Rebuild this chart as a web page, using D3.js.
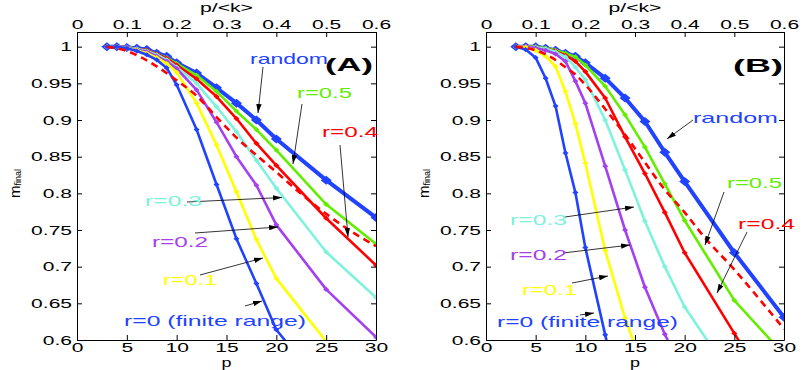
<!DOCTYPE html>
<html lang="en">
<head>
<meta charset="UTF-8">
<title>m_final vs p</title>
<style>
  body { margin: 0; background: #fff; }
  svg { display: block; font-family: "Liberation Sans", Arial, sans-serif; }
</style>
</head>
<body>
<div id="chart"></div>
<script src="https://cdn.jsdelivr.net/npm/d3@7"></script>
<script>
// p values of the simulation runs (same for every marked curve)
const pVals = [3, 4, 5, 6, 7, 8, 9, 10, 12, 14, 16, 18, 20, 25, 30];
// p values of the dashed reference curve
const theoryP = [3, 5, 6.5, 8, 9, 10, 12, 14, 16, 18, 20, 22, 25, 28, 30];

// panel (A)
const aRandom = [1, 1, 0.999, 0.998, 0.996, 0.991, 0.987, 0.978, 0.964, 0.944, 0.923, 0.9, 0.874, 0.818, 0.767];
const aR05 = [1, 1, 0.999, 0.997, 0.995, 0.99, 0.985, 0.977, 0.961, 0.939, 0.912, 0.887, 0.859, 0.785, 0.731];
const aR04 = [1, 1, 0.999, 0.997, 0.995, 0.99, 0.984, 0.975, 0.956, 0.932, 0.902, 0.868, 0.838, 0.766, 0.702];
const aR03 = [1, 1, 0.999, 0.997, 0.994, 0.989, 0.982, 0.972, 0.95, 0.918, 0.884, 0.845, 0.807, 0.72, 0.658];
const aR02 = [1, 1, 0.999, 0.996, 0.993, 0.987, 0.98, 0.97, 0.941, 0.897, 0.85, 0.811, 0.757, 0.669, 0.604];
const aR01 = [1, 1, 0.998, 0.995, 0.991, 0.985, 0.977, 0.965, 0.923, 0.866, 0.802, 0.737, 0.684, 0.598, null];
const aR0 = [1, 1, 0.998, 0.994, 0.989, 0.982, 0.971, 0.948, 0.887, 0.812, 0.738, 0.677, 0.614, 0.53, null];
const aTheory = [1, 0.994, 0.985, 0.973, 0.964, 0.954, 0.933, 0.904, 0.876, 0.852, 0.829, 0.805, 0.772, 0.744, 0.728];

// panel (B)
const bRandom = [1, 1, 1, 0.998, 0.995, 0.991, 0.987, 0.978, 0.957, 0.93, 0.898, 0.856, 0.816, 0.719, 0.631];
const bR05 = [1, 1, 1, 0.998, 0.995, 0.991, 0.986, 0.975, 0.946, 0.907, 0.863, 0.813, 0.763, 0.654, 0.58];
const bR04 = [1, 1, 0.999, 0.997, 0.994, 0.988, 0.98, 0.966, 0.93, 0.877, 0.827, 0.774, 0.719, 0.609, 0.5];
const bR03 = [1, 1, 0.999, 0.997, 0.993, 0.986, 0.972, 0.955, 0.9, 0.832, 0.762, 0.7, 0.645, 0.545, null];
const bR02 = [1, 1, 0.998, 0.995, 0.99, 0.98, 0.953, 0.923, 0.837, 0.75, 0.672, 0.608, 0.55, null, null];
const bR01 = [1, 0.999, 0.995, 0.987, 0.973, 0.939, 0.895, 0.841, 0.722, 0.63, 0.555, null, null, null, null];
const bR0 = [1, 0.996, 0.985, 0.957, 0.919, 0.855, 0.801, 0.726, 0.607, 0.49, null, null, null, null, null];
const bTheory = [1, 0.995, 0.986, 0.972, 0.962, 0.948, 0.915, 0.88, 0.842, 0.805, 0.774, 0.74, 0.696, 0.648, 0.615];

// ticks
const xTicks = [0, 5, 10, 15, 20, 25, 30];
const xTickLabels = ["0", "5", "10", "15", "20", "25", "30"];
const topTicks = [0, 0.1, 0.2, 0.3, 0.4, 0.5, 0.6];
const topTickLabels = ["0", "0.1", "0.2", "0.3", "0.4", "0.5", "0.6"];
const yTicks = [0.6, 0.65, 0.7, 0.75, 0.8, 0.85, 0.9, 0.95, 1];
const yTickLabels = ["0.6", "0.65", "0.7", "0.75", "0.8", "0.85", "0.9", "0.95", "1"];

const seriesNames = ["random", "r=0.5", "r=0.4", "r=0.3", "r=0.2", "r=0.1", "r=0 (finite range)"];

// ---- drawing ----
const blue = "#2143ff", green = "#62ee00", red = "#ff0000", cyan = "#7ef2dd",
      purple = "#a440f0", yellow = "#ffff00";
const colors = [blue, green, red, cyan, purple, yellow, blue];

const svg = d3.select("#chart").append("svg").attr("width", 809).attr("height", 370);
const plotTop = 32, plotBottom = 340;

// arrow head for the annotation arrows
svg.append("defs").append("marker")
    .attr("id", "ah").attr("viewBox", "0 0 10 6").attr("refX", 10).attr("refY", 3)
    .attr("markerWidth", 9).attr("markerHeight", 5.4).attr("markerUnits", "userSpaceOnUse")
    .attr("orient", "auto")
  .append("path").attr("d", "M0,0L10,3L0,6z").attr("fill", "#000");

// the figure's text is drawn wide, so widen glyphs after measuring them
function stretch(sel, k) {
    sel.each(function () {
        const w = this.getComputedTextLength();
        d3.select(this).attr("textLength", w * k).attr("lengthAdjust", "spacingAndGlyphs");
    });
}
function diamond(hw, hh) { return `M0,${-hh}L${hw},0L0,${hh}L${-hw},0Z`; }

const panels = [
    { id: "A", left: 77, right: 376, tag: "(A)", tagX: 248, tagW: 48, tagY: 71,
      values: [aRandom, aR05, aR04, aR03, aR02, aR01, aR0], theory: aTheory,
      notes: [ // text x, baseline, width, arrow from -> to (panel pixels)
        { x: 173, y: 64, w: 78, a: [186, 67, 181, 113] },
        { x: 220, y: 98, w: 55, a: [225, 104, 216, 164] },
        { x: 245, y: 137, w: 56, a: [263, 145, 271, 237] },
        { x: 68, y: 206, w: 57, a: [110, 202, 205, 197.5] },
        { x: 75, y: 247, w: 56, a: [118, 233, 201, 227] },
        { x: 86, y: 285, w: 54, a: [123, 275, 186, 258] },
        { x: 47, y: 326, w: 182, a: [168, 306, 185, 301] }
      ] },
    { id: "B", left: 486, right: 784, tag: "(B)", tagX: 247, tagW: 50, tagY: 72,
      values: [bRandom, bR05, bR04, bR03, bR02, bR01, bR0], theory: bTheory,
      notes: [
        { x: 207, y: 123, w: 85, a: [207, 120, 181, 139] },
        { x: 241, y: 188, w: 55, a: [238, 192, 219, 245] },
        { x: 252, y: 229, w: 57, a: [261, 232, 231, 293] },
        { x: 24, y: 225, w: 57, a: [79, 217, 148, 207] },
        { x: 24, y: 260, w: 57, a: [77, 253, 144, 245] },
        { x: 36, y: 295, w: 55, a: [86, 283, 122, 276] },
        { x: 11, y: 327, w: 181, a: [94, 315, 108, 313] }
      ] }
];

panels.forEach(pn => {
    const w = pn.right - pn.left;
    const g = svg.append("g").attr("transform", `translate(${pn.left},0)`);
    const x = d3.scaleLinear().domain([0, 30]).range([0, w]);
    const xTop = d3.scaleLinear().domain([0, 0.6]).range([0, w]);
    const y = d3.scaleLinear().domain([0.6, 1.02]).range([plotBottom, plotTop]);

    g.append("clipPath").attr("id", "clip" + pn.id)
      .append("rect").attr("x", 0).attr("y", plotTop).attr("width", w).attr("height", plotBottom - plotTop);
    const plot = g.append("g").attr("clip-path", `url(#clip${pn.id})`);

    const line = d3.line().x(d => x(d[0])).y(d => y(d[1]));

    // random (thick, big diamonds) first, then the r curves
    pn.values.forEach((vals, k) => {
        const pts = pVals.map((p, i) => [p, vals[i]]).filter(d => d[1] != null);
        const big = k === 0;
        plot.append("path").datum(pts)
            .attr("d", line).attr("fill", "none")
            .attr("stroke", colors[k]).attr("stroke-width", big ? 4 : 2.6)
            .attr("stroke-linejoin", "round");
        plot.append("g").selectAll("path").data(pts).join("path")
            .attr("transform", d => `translate(${x(d[0])},${y(d[1])})`)
            .attr("d", big ? diamond(5.5, 4.5) : diamond(3, 2.6))
            .attr("fill", colors[k]);
    });

    // dashed reference curve
    plot.append("path").datum(theoryP.map((p, i) => [p, pn.theory[i]]))
        .attr("d", d3.line().curve(d3.curveMonotoneX).x(d => x(d[0])).y(d => y(d[1])))
        .attr("fill", "none").attr("stroke", red).attr("stroke-width", 2.6)
        .attr("stroke-dasharray", "7,5");

    // axes (MATLAB style box, ticks pointing inside)
    const axes = g.append("g").attr("font-family", "Liberation Sans, Arial, sans-serif");
    axes.append("g").attr("transform", `translate(0,${plotBottom})`)
        .call(d3.axisBottom(x).tickValues(xTicks).tickFormat((d, i) => xTickLabels[i])
            .tickSize(-5).tickSizeOuter(0).tickPadding(3));
    axes.append("g").attr("transform", `translate(0,${plotTop})`)
        .call(d3.axisTop(xTop).tickValues(topTicks).tickFormat((d, i) => topTickLabels[i])
            .tickSize(-5).tickSizeOuter(0).tickPadding(3));
    axes.append("g")
        .call(d3.axisLeft(y).tickValues(yTicks).tickFormat((d, i) => yTickLabels[i])
            .tickSize(-5).tickSizeOuter(0).tickPadding(5));
    axes.append("g").attr("transform", `translate(${w},0)`)
        .call(d3.axisRight(y).tickValues(yTicks).tickFormat("").tickSize(-5).tickSizeOuter(0));
    axes.selectAll("g").attr("font-size", null).attr("font-family", null);
    axes.selectAll("text").attr("font-size", 12.5).attr("fill", "#000");
    stretch(axes.selectAll("text"), 1.68);

    // axis titles
    g.append("text").attr("x", w / 2).attr("y", 12).attr("text-anchor", "middle")
        .attr("font-size", 13).attr("textLength", 53).attr("lengthAdjust", "spacingAndGlyphs")
        .text("p/<k>");
    g.append("text").attr("x", w / 2).attr("y", 367).attr("text-anchor", "middle")
        .attr("font-size", 12.5).attr("textLength", 10).attr("lengthAdjust", "spacingAndGlyphs")
        .text("p");
    const yl = g.append("text").attr("transform", `translate(-57,198) rotate(-90)`)
        .attr("font-size", 15);
    yl.append("tspan").text("m");
    yl.append("tspan").attr("font-size", 9).attr("dy", 1).text("final");

    // panel tag
    g.append("text").attr("x", pn.tagX).attr("y", pn.tagY)
        .attr("font-size", 19).attr("font-weight", "bold")
        .attr("textLength", pn.tagW).attr("lengthAdjust", "spacingAndGlyphs")
        .text(pn.tag);

    // curve labels with arrows
    pn.notes.forEach((n, k) => {
        g.append("line")
            .attr("x1", n.a[0]).attr("y1", n.a[1]).attr("x2", n.a[2]).attr("y2", n.a[3])
            .attr("stroke", "#000").attr("stroke-width", 0.8).attr("marker-end", "url(#ah)");
        g.append("text").attr("x", n.x).attr("y", n.y)
            .attr("font-size", 15).attr("fill", colors[k])
            .attr("textLength", n.w).attr("lengthAdjust", "spacingAndGlyphs")
            .text(seriesNames[k]);
    });
});
</script>
</body>
</html>
